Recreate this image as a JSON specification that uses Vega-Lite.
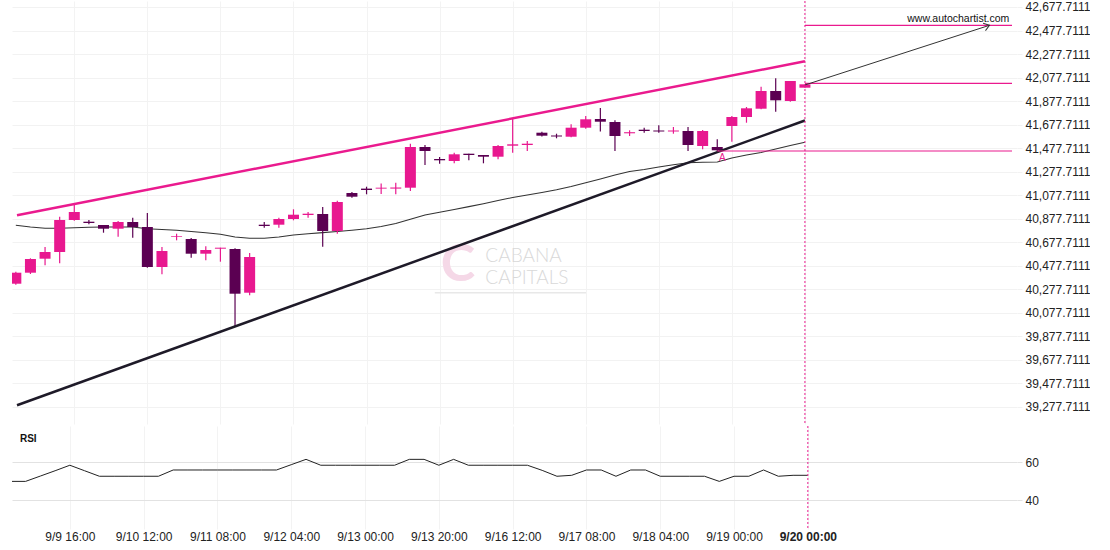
{
  "$schema": "https://vega.github.io/schema/vega-lite/v6.json",
  "padding": {"left": 12, "top": 0, "right": 0, "bottom": 0},
  "background": "white",
  "spacing": 0,
  "config": {
    "view": {"stroke": null},
    "font": "Liberation Sans",
    "axis": {"labelFont": "Liberation Sans", "labelFontSize": 12, "labelColor": "#222", "domain": false, "labelOverlap": false, "labelFlush": false, "minExtent": 0}
  },
  "datasets": {
    "candles": [
      {"k":0,"o":40323.8,"h":40425,"l":40315,"c":40417.4,"ma":40820.6,"rsi":49.8},
      {"k":1,"o":40417.4,"h":40540,"l":40406.4,"c":40533.9,"ma":40806.2,"rsi":49.8},
      {"k":2,"o":40536.5,"h":40636.0,"l":40480.4,"c":40593.5,"ma":40795.1,"rsi":52.6},
      {"k":3,"o":40593.5,"h":40893.8,"l":40497.4,"c":40865.7,"ma":40796.0,"rsi":55.4},
      {"k":4,"o":40865.7,"h":41001.9,"l":40860,"c":40933.8,"ma":40800.2,"rsi":58.3},
      {"k":5,"o":40851.2,"h":40865.7,"l":40829.2,"c":40840.2,"ma":40803.6,"rsi":55.4},
      {"k":6,"o":40823.2,"h":40823.2,"l":40757.7,"c":40791.7,"ma":40806.2,"rsi":52.5},
      {"k":7,"o":40791.7,"h":40857.2,"l":40723.7,"c":40848.7,"ma":40806.2,"rsi":52.5},
      {"k":8,"o":40848.7,"h":40885.3,"l":40715.2,"c":40806.2,"ma":40806.2,"rsi":52.5},
      {"k":9,"o":40806.2,"h":40925.3,"l":40459.9,"c":40465.9,"ma":40791.7,"rsi":52.5},
      {"k":10,"o":40465.9,"h":40636.0,"l":40403.8,"c":40602.0,"ma":40784.9,"rsi":52.5},
      {"k":11,"o":40723.7,"h":40749.2,"l":40693.0,"c":40729.6,"ma":40778.1,"rsi":55.8},
      {"k":12,"o":40704.1,"h":40712.6,"l":40545.0,"c":40579.0,"ma":40767.9,"rsi":55.8},
      {"k":13,"o":40579.0,"h":40642.0,"l":40522.9,"c":40610.5,"ma":40757.7,"rsi":55.8},
      {"k":14,"o":40621.6,"h":40630.1,"l":40511.0,"c":40630.1,"ma":40744.1,"rsi":55.8},
      {"k":15,"o":40619.0,"h":40624.9,"l":39963.9,"c":40238.7,"ma":40721.1,"rsi":55.8},
      {"k":16,"o":40247.2,"h":40585.0,"l":40225.2,"c":40551.0,"ma":40710.0,"rsi":55.8},
      {"k":17,"o":40825.7,"h":40848.7,"l":40800.2,"c":40814.6,"ma":40710.0,"rsi":55.8},
      {"k":18,"o":40825.7,"h":40885.3,"l":40800.2,"c":40874.2,"ma":40721.1,"rsi":55.8},
      {"k":19,"o":40874.2,"h":40956.7,"l":40863.1,"c":40910.8,"ma":40738.1,"rsi":58.6},
      {"k":20,"o":40908.3,"h":40933.8,"l":40885.3,"c":40919.3,"ma":40748.3,"rsi":61.4},
      {"k":21,"o":40916.8,"h":40976.3,"l":40638.6,"c":40772.2,"ma":40758.5,"rsi":58.3},
      {"k":22,"o":40772.2,"h":41030,"l":40749.2,"c":41018.9,"ma":40767.9,"rsi":58.3},
      {"k":23,"o":41095.4,"h":41104.0,"l":41055.4,"c":41063.9,"ma":40778.1,"rsi":58.3},
      {"k":24,"o":41132.8,"h":41149.0,"l":41084.3,"c":41120.9,"ma":40790.9,"rsi":58.3},
      {"k":25,"o":41132.8,"h":41176.2,"l":41086.9,"c":41140.5,"ma":40810.4,"rsi":58.3},
      {"k":26,"o":41132.8,"h":41183.0,"l":41084.3,"c":41142.2,"ma":40835.9,"rsi":58.3},
      {"k":27,"o":41140.5,"h":41514.8,"l":41112.4,"c":41486.7,"ma":40871.7,"rsi":61.4},
      {"k":28,"o":41486.7,"h":41503.7,"l":41333.6,"c":41452.7,"ma":40908.3,"rsi":61.4},
      {"k":29,"o":41384.7,"h":41401.7,"l":41344.7,"c":41373.6,"ma":40932.1,"rsi":58.3},
      {"k":30,"o":41367.6,"h":41438.2,"l":41348.1,"c":41424.6,"ma":40955.0,"rsi":61.4},
      {"k":31,"o":41429.7,"h":41429.7,"l":41373.6,"c":41418.6,"ma":40979.7,"rsi":58.3},
      {"k":32,"o":41418.6,"h":41418.6,"l":41348.1,"c":41404.2,"ma":41004.4,"rsi":58.3},
      {"k":33,"o":41404.2,"h":41503.7,"l":41382.1,"c":41495.2,"ma":41031.6,"rsi":58.3},
      {"k":34,"o":41497.8,"h":41730.9,"l":41438.2,"c":41509.7,"ma":41057.1,"rsi":58.3},
      {"k":35,"o":41503.7,"h":41537.8,"l":41452.7,"c":41514.8,"ma":41078.4,"rsi":58.3},
      {"k":36,"o":41608.4,"h":41617,"l":41577,"c":41582.9,"ma":41099.6,"rsi":55.6},
      {"k":37,"o":41584.6,"h":41599.9,"l":41560.7,"c":41576.1,"ma":41122.6,"rsi":52.5},
      {"k":38,"o":41574.3,"h":41679.8,"l":41570,"c":41650.9,"ma":41150.7,"rsi":53.0},
      {"k":39,"o":41650.9,"h":41750.4,"l":41642.4,"c":41722.4,"ma":41183.0,"rsi":55.8},
      {"k":40,"o":41724.9,"h":41818.5,"l":41618.6,"c":41701.9,"ma":41214.5,"rsi":55.8},
      {"k":41,"o":41699.4,"h":41713.8,"l":41452.7,"c":41580.3,"ma":41248.6,"rsi":52.5},
      {"k":42,"o":41603.3,"h":41628.8,"l":41580.3,"c":41612.6,"ma":41278.3,"rsi":55.8},
      {"k":43,"o":41633.9,"h":41650.9,"l":41608.4,"c":41622.9,"ma":41295.3,"rsi":55.8},
      {"k":44,"o":41627.1,"h":41671.3,"l":41608.4,"c":41618.6,"ma":41316.6,"rsi":52.5},
      {"k":45,"o":41618.6,"h":41656.9,"l":41599.9,"c":41627.1,"ma":41335.3,"rsi":52.5},
      {"k":46,"o":41622.9,"h":41656.9,"l":41452.7,"c":41503.7,"ma":41352.3,"rsi":52.5},
      {"k":47,"o":41495.2,"h":41631.3,"l":41467.2,"c":41622.9,"ma":41357.4,"rsi":52.5},
      {"k":48,"o":41486.7,"h":41552.2,"l":41452.7,"c":41458.7,"ma":41359.1,"rsi":49.8},
      {"k":49,"o":41665.4,"h":41750.4,"l":41531.8,"c":41741.9,"ma":41393.2,"rsi":52.5},
      {"k":50,"o":41741.9,"h":41827,"l":41693.4,"c":41815.9,"ma":41418.6,"rsi":52.5},
      {"k":51,"o":41812.5,"h":41999.7,"l":41808,"c":41963.1,"ma":41439.9,"rsi":55.8},
      {"k":52,"o":41963.1,"h":42071.1,"l":41787.0,"c":41884.0,"ma":41469.7,"rsi":52.5},
      {"k":53,"o":41878.0,"h":42048.2,"l":41872,"c":42048.2,"ma":41499.5,"rsi":53.0},
      {"k":54,"o":41991.2,"h":42020.1,"l":41991.2,"c":42020.1,"ma":41526.7,"rsi":53.0}
    ],
    "lines": [
      {"line":"upper","k":0.08,"v":40905.7},
      {"line":"upper","k":54,"v":42215.8},
      {"line":"lower","k":0.08,"v":39289.4},
      {"line":"lower","k":54,"v":41712.2},
      {"line":"arrow","k":54,"v":42014.2},
      {"line":"arrow","k":66.63,"v":42522.0}
    ],
    "levels": [
      {"level":"target","k":54,"k2":68.17,"v":42522.0},
      {"level":"current","k":54,"k2":68.17,"v":42028.6},
      {"level":"breakout","k":48,"k2":68.17,"v":41452.7}
    ],
    "segments": [
      {"seg":"watermark underline","k":28.67,"k2":39.02,"v":40247.2}
    ],
    "notes": [
      {"note":"C","k":29.08,"v":40346.8},
      {"note":"CABANA","k":32.13,"v":40505},
      {"note":"CAPITALS","k":32.13,"v":40318.7},
      {"note":"A","k":48.35,"v":41367.6},
      {"note":"www.autochartist.com","k":67.99,"v":42573.1}
    ],
    "panelnotes": [
      {"note":"RSI","k":0.62,"r":70.5}
    ],
    "marker": [
      {"event":"now","k":54}
    ]
  },
  "vconcat": [
    {
      "width": 1005,
      "height": 423,
      "encoding": {
        "x": {"field": "k", "type": "quantitative",
          "scale": {"domain": [0.08, 68.17], "nice": false, "zero": false},
          "axis": {"values": [4,9,14,19,24,29,34,39,44,49,54], "tickCount": 100, "labels": false, "ticks": false, "domain": false, "grid": true, "gridColor": "#f3f3f3", "title": null, "minExtent": 0, "maxExtent": 0}}
      },
      "layer": [
        {
          "data": {"name": "candles"},
          "mark": {"type": "line", "color": "#333", "strokeWidth": 1.1, "clip": true},
          "encoding": {
            "y": {"field": "ma", "type": "quantitative",
              "scale": {"domain": [39130.3, 42728.75], "nice": false, "zero": false},
              "axis": {"orient": "right", "values": [39277.7111,39477.7111,39677.7111,39877.7111,40077.7111,40277.7111,40477.7111,40677.7111,40877.7111,41077.7111,41277.7111,41477.7111,41677.7111,41877.7111,42077.7111,42277.7111,42477.7111,42677.7111],
                "tickCount": 100, "format": ",.4f", "grid": true, "gridColor": "#f2f2f2", "ticks": true, "tickColor": "#f2f2f2", "tickSize": 5, "labelPadding": 3, "domain": false, "labelOverlap": false, "labelFlush": false, "title": null}}
          }
        },
        {
          "data": {"name": "notes"},
          "transform": [{"filter": "datum.note == 'C'"}],
          "mark": {"type": "text", "font": "Lato", "fontWeight": "bold", "fontSize": 52, "color": "#f5d8e7", "align": "left", "baseline": "alphabetic"},
          "encoding": {"y": {"field": "v", "type": "quantitative", "axis": {"title": null}}, "text": {"field": "note", "type": "nominal"}}
        },
        {
          "data": {"name": "notes"},
          "transform": [{"filter": "datum.note == 'CABANA' || datum.note == 'CAPITALS'"}],
          "mark": {"type": "text", "font": "Lato", "fontWeight": 300, "fontSize": 19, "color": "#d9d9d9", "align": "left", "baseline": "alphabetic"},
          "encoding": {"y": {"field": "v", "type": "quantitative", "axis": {"title": null}}, "text": {"field": "note", "type": "nominal"}}
        },
        {
          "data": {"name": "segments"},
          "mark": {"type": "rule", "color": "#e8e8e8", "strokeWidth": 1.5},
          "encoding": {"x2": {"field": "k2"}, "y": {"field": "v", "type": "quantitative", "axis": {"title": null}}}
        },
        {
          "data": {"name": "candles"},
          "mark": {"type": "rule", "strokeWidth": 1.2, "clip": true},
          "encoding": {
            "y": {"field": "l", "type": "quantitative", "axis": {"title": null}},
            "y2": {"field": "h"},
            "color": {"condition": {"test": "datum.c >= datum.o", "value": "#E8188F"}, "value": "#5B0052"}
          }
        },
        {
          "data": {"name": "candles"},
          "mark": {"type": "bar", "size": 11, "clip": true},
          "encoding": {
            "y": {"field": "o", "type": "quantitative", "axis": {"title": null}},
            "y2": {"field": "c"},
            "color": {"condition": {"test": "datum.c >= datum.o", "value": "#E8188F"}, "value": "#5B0052"}
          }
        },
        {
          "data": {"name": "lines"},
          "transform": [{"filter": "datum.line == 'upper'"}],
          "mark": {"type": "line", "color": "#EA1A8E", "strokeWidth": 2.5, "clip": true},
          "encoding": {"y": {"field": "v", "type": "quantitative", "axis": {"title": null}}}
        },
        {
          "data": {"name": "lines"},
          "transform": [{"filter": "datum.line == 'lower'"}],
          "mark": {"type": "line", "color": "#1e1a28", "strokeWidth": 2.5, "clip": true},
          "encoding": {"y": {"field": "v", "type": "quantitative", "axis": {"title": null}}}
        },
        {
          "data": {"name": "levels"},
          "mark": {"type": "rule", "color": "#EA1A8E", "strokeWidth": 1.2},
          "encoding": {"x2": {"field": "k2"}, "y": {"field": "v", "type": "quantitative", "axis": {"title": null}}}
        },
        {
          "data": {"name": "lines"},
          "transform": [{"filter": "datum.line == 'arrow'"}],
          "mark": {"type": "line", "color": "#333", "strokeWidth": 1},
          "encoding": {"y": {"field": "v", "type": "quantitative", "axis": {"title": null}}}
        },
        {
          "data": {"name": "lines"},
          "transform": [{"filter": "datum.line == 'arrow' && datum.k > 60"}],
          "mark": {"type": "point", "shape": "M-1,-0.7L0,0L-1,0.7", "filled": false, "stroke": "#333", "strokeWidth": 1, "size": 120, "angle": 342, "opacity": 1},
          "encoding": {"y": {"field": "v", "type": "quantitative", "axis": {"title": null}}}
        },
        {
          "data": {"name": "marker"},
          "mark": {"type": "rule", "color": "#EA1A8E", "strokeWidth": 1, "strokeDash": [2, 2]},
          "encoding": {}
        },
        {
          "data": {"name": "notes"},
          "transform": [{"filter": "datum.note == 'A'"}],
          "mark": {"type": "text", "font": "Liberation Sans", "fontSize": 10, "color": "#EA1A8E", "align": "center", "baseline": "alphabetic"},
          "encoding": {"y": {"field": "v", "type": "quantitative", "axis": {"title": null}}, "text": {"field": "note", "type": "nominal"}}
        },
        {
          "data": {"name": "notes"},
          "transform": [{"filter": "datum.note == 'www.autochartist.com'"}],
          "mark": {"type": "text", "font": "Liberation Sans", "fontSize": 10.5, "color": "#111", "align": "right", "baseline": "middle"},
          "encoding": {"y": {"field": "v", "type": "quantitative", "axis": {"title": null}}, "text": {"field": "note", "type": "nominal"}}
        }
      ]
    },
    {
      "width": 1005,
      "height": 103,
      "encoding": {
        "x": {"field": "k", "type": "quantitative",
          "scale": {"domain": [0.08, 68.17], "nice": false, "zero": false},
          "axis": {"values": [4,9,14,19,24,29,34,39,44,49,54], "tickCount": 100,
            "labelExpr": "['9/9 16:00','9/10 12:00','9/11 08:00','9/12 04:00','9/13 00:00','9/13 20:00','9/16 12:00','9/17 08:00','9/18 04:00','9/19 00:00','9/20 00:00'][(datum.value-4)/5]",
            "grid": true, "gridColor": "#f3f3f3", "ticks": false, "domain": false, "labelPadding": 2, "labelFlush": false, "labelOverlap": false,
            "labelFontWeight": {"condition": {"test": "datum.value == 54", "value": "bold"}, "value": "normal"},
            "title": null}}
      },
      "layer": [
        {
          "data": {"name": "candles"},
          "mark": {"type": "line", "color": "#222", "strokeWidth": 1, "clip": true},
          "encoding": {
            "y": {"field": "rsi", "type": "quantitative",
              "scale": {"domain": [24.74, 78.95], "nice": false, "zero": false},
              "axis": {"orient": "right", "values": [40, 60], "grid": true, "gridColor": "#e2e2e2", "ticks": true, "tickColor": "#e2e2e2", "tickSize": 5, "labelPadding": 3, "domain": false, "title": null}}
          }
        },
        {
          "data": {"name": "marker"},
          "mark": {"type": "rule", "color": "#EA1A8E", "strokeWidth": 1, "strokeDash": [2, 2]},
          "encoding": {}
        },
        {
          "data": {"name": "panelnotes"},
          "mark": {"type": "text", "font": "Liberation Sans", "fontWeight": "bold", "fontSize": 10, "color": "#111", "align": "left", "baseline": "alphabetic"},
          "encoding": {"y": {"field": "r", "type": "quantitative", "axis": {"title": null}}, "text": {"field": "note", "type": "nominal"}}
        }
      ]
    }
  ]
}
